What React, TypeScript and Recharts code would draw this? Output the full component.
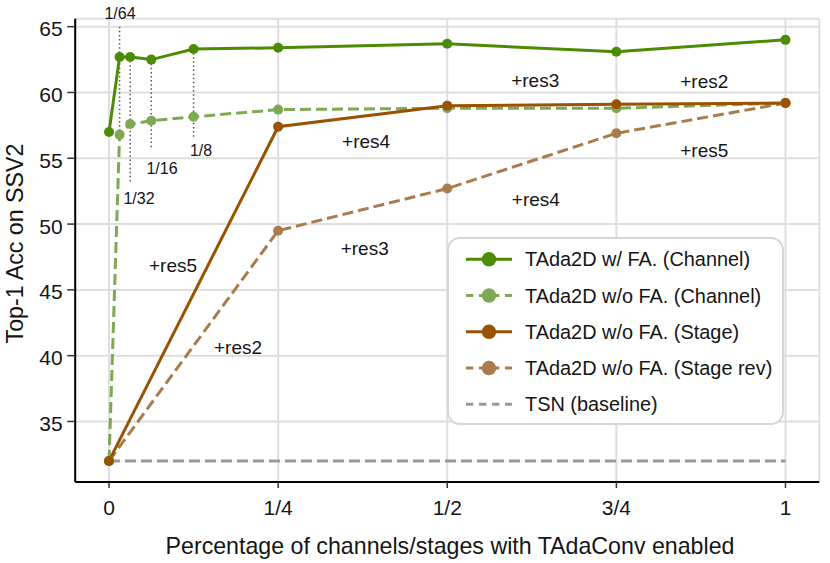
import React from 'react';
import {
  ComposedChart,
  Line,
  XAxis,
  YAxis,
  CartesianGrid,
  ReferenceDot,
  Legend,
} from 'recharts';

// ---------- data ----------
const xTicks = [0, 0.25, 0.5, 0.75, 1];
const xTickLabels = ['0', '1/4', '1/2', '3/4', '1'];
const yTicks = [35, 40, 45, 50, 55, 60, 65];

const channelX = [0, 1 / 64, 1 / 32, 1 / 16, 1 / 8, 1 / 4, 1 / 2, 3 / 4, 1];
const withFAChannel = [57.0, 62.7, 62.7, 62.5, 63.3, 63.4, 63.7, 63.1, 64.0];
const withoutFAChannel = [32.0, 56.8, 57.6, 57.85, 58.15, 58.7, 58.8, 58.8, 59.2];

const stageX = [0, 1 / 4, 1 / 2, 3 / 4, 1];
const withoutFAStage = [32.0, 57.4, 59.0, 59.1, 59.2];
const withoutFAStageRev = [32.0, 49.5, 52.7, 56.9, 59.2];

const baselineX = [0, 1];
const baselineY = [32.0, 32.0];

const guideX = [1 / 64, 1 / 32, 1 / 16, 1 / 8];
const guideTop = [65.0, 62.7, 62.5, 63.3];
const guideBottom = [56.8, 53.2, 55.7, 56.5];

const guideLabelText = ['1/64', '1/32', '1/16', '1/8'];
const guideLabelX = [0.0163, 0.0443, 0.0783, 0.136];
const guideLabelY = [66.04, 51.98, 54.26, 55.63];

const annoText = ['+res3', '+res2', '+res4', '+res5', '+res4', '+res3', '+res5', '+res2'];
const annoX = [0.63, 0.88, 0.38, 0.88, 0.631, 0.378, 0.0946, 0.1907];
const annoY = [60.95, 60.87, 56.31, 55.58, 51.91, 48.18, 46.89, 40.66];

const seriesNames = [
  'TAda2D w/ FA. (Channel)',
  'TAda2D w/o FA. (Channel)',
  'TAda2D w/o FA. (Stage)',
  'TAda2D w/o FA. (Stage rev)',
  'TSN (baseline)',
];

// ---------- styles ----------
const FONT = '"Liberation Sans", Arial, Helvetica, sans-serif';
const C_GREEN = '#4c8c04';
const C_LGREEN = '#7da855';
const C_BROWN = '#995200';
const C_TAN = '#a87c4c';
const C_GRAY = '#999999';
const TEXT = '#151515';

const legendStyles = [
  { color: C_GREEN, dashed: false, marker: true },
  { color: C_LGREEN, dashed: true, marker: true },
  { color: C_BROWN, dashed: false, marker: true },
  { color: C_TAN, dashed: true, marker: true },
  { color: C_GRAY, dashed: true, marker: false },
];

const zip = (xs: number[], ys: number[]) => xs.map((x, i) => ({ x, y: ys[i] }));

const dataGreen = zip(channelX, withFAChannel);
const dataLGreen = zip(channelX, withoutFAChannel);
const dataBrown = zip(stageX, withoutFAStage);
const dataTan = zip(stageX, withoutFAStageRev);
const dataBase = zip(baselineX, baselineY);
const guides = guideX.map((x, i) => [
  { x, y: guideTop[i] },
  { x, y: guideBottom[i] },
]);

const YTick = (props: any) => {
  const { x, y, payload } = props;
  return (
    <text x={x} y={y + 2} dy="0.355em" textAnchor="end" fontSize={21} fill={TEXT} fontFamily={FONT}>
      {payload.value}
    </text>
  );
};

const XTick = (props: any) => {
  const { x, y, payload } = props;
  const idx = xTicks.indexOf(payload.value);
  return (
    <text x={x} y={y} dy="0.71em" textAnchor="middle" fontSize={21} fill={TEXT} fontFamily={FONT}>
      {idx >= 0 ? xTickLabels[idx] : payload.value}
    </text>
  );
};

const textShape = (txt: string, size: number) => (p: any) => (
  <text
    x={p.cx}
    y={p.cy}
    dy="0.36em"
    textAnchor="middle"
    fontSize={size}
    fill={TEXT}
    fontFamily={FONT}
  >
    {txt}
  </text>
);

const LegendBox = () => {
  const rowY = (i: number) => 22.3 + 36.25 * i;
  return (
    <svg width={337} height={188} style={{ display: 'block' }}>
      <rect x={1} y={1} width={335} height={186} rx={12} ry={12} fill="#ffffff" stroke="#d6d6d6" strokeWidth={2} />
      {seriesNames.map((name, i) => {
        const s = legendStyles[i];
        const cy = rowY(i);
        return (
          <g key={name}>
            <line
              x1={19}
              x2={65}
              y1={cy}
              y2={cy}
              stroke={s.color}
              strokeWidth={3}
              strokeDasharray={s.dashed ? '7.3 5.7' : undefined}
            />
            {s.marker && <circle cx={42} cy={cy} r={7.2} fill={s.color} />}
            <text x={78} y={cy} dy="0.36em" fontSize={19.9} fill={TEXT} fontFamily={FONT}>
              {name}
            </text>
          </g>
        );
      })}
    </svg>
  );
};

export default function App() {
  return (
    <div style={{ position: 'absolute', left: 0, top: 0, width: 830, height: 563, background: '#fff', fontFamily: FONT }}>
      <ComposedChart
        width={830}
        height={563}
        margin={{ top: 18.8, right: 10.7, bottom: 1, left: 15.2 }}
        style={{ fontFamily: FONT }}
      >
        <CartesianGrid stroke="#dedede" strokeWidth={2} />
        <XAxis
          type="number"
          dataKey="x"
          domain={[-0.05, 1.05]}
          ticks={xTicks}
          interval={0}
          allowDataOverflow
          height={80}
          tickSize={6}
          tickMargin={12}
          axisLine={{ stroke: '#000', strokeWidth: 2 }}
          tickLine={{ stroke: '#333', strokeWidth: 1.5 }}
          tick={<XTick />}
          label={{
            content: () => (
              <text x={450} y={546} dy="0.36em" textAnchor="middle" fontSize={23.2} fill={TEXT} fontFamily={FONT}>
                Percentage of channels/stages with TAdaConv enabled
              </text>
            ),
          }}
        />
        <YAxis
          type="number"
          dataKey="y"
          domain={[30.4, 65.6]}
          ticks={yTicks}
          interval={0}
          allowDataOverflow
          width={60}
          tickSize={8}
          tickMargin={4.5}
          axisLine={{ stroke: '#000', strokeWidth: 2 }}
          tickLine={{ stroke: '#333', strokeWidth: 1.5 }}
          tick={<YTick />}
          label={{
            content: () => (
              <text
                transform="translate(15,243.5) rotate(-90)"
                dy="0.36em"
                textAnchor="middle"
                fontSize={23.2}
                fill={TEXT}
                fontFamily={FONT}
              >
                Top-1 Acc on SSV2
              </text>
            ),
          }}
        />

        {guides.map((g, i) => (
          <Line
            key={'guide' + i}
            data={g}
            dataKey="y"
            stroke="#555555"
            strokeWidth={1.5}
            strokeDasharray="1.5 2.6"
            dot={false}
            activeDot={false}
            legendType="none"
            isAnimationActive={false}
          />
        ))}

        <Line
          data={dataBase}
          dataKey="y"
          name={seriesNames[4]}
          stroke={C_GRAY}
          strokeWidth={3}
          strokeDasharray="11 5"
          dot={false}
          activeDot={false}
          isAnimationActive={false}
        />
        <Line
          data={dataTan}
          dataKey="y"
          name={seriesNames[3]}
          stroke={C_TAN}
          strokeWidth={3}
          strokeDasharray="11 5"
          dot={{ r: 5, fill: C_TAN, stroke: 'none' }}
          activeDot={false}
          isAnimationActive={false}
        />
        <Line
          data={dataLGreen}
          dataKey="y"
          name={seriesNames[1]}
          stroke={C_LGREEN}
          strokeWidth={3}
          strokeDasharray="11 5"
          dot={{ r: 5, fill: C_LGREEN, stroke: 'none' }}
          activeDot={false}
          isAnimationActive={false}
        />
        <Line
          data={dataBrown}
          dataKey="y"
          name={seriesNames[2]}
          stroke={C_BROWN}
          strokeWidth={3}
          dot={{ r: 5, fill: C_BROWN, stroke: 'none' }}
          activeDot={false}
          isAnimationActive={false}
        />
        <Line
          data={dataGreen}
          dataKey="y"
          name={seriesNames[0]}
          stroke={C_GREEN}
          strokeWidth={3}
          dot={{ r: 5, fill: C_GREEN, stroke: 'none' }}
          activeDot={false}
          isAnimationActive={false}
        />

        {guideLabelText.map((t, i) => (
          <ReferenceDot
            key={'gl' + i}
            x={guideLabelX[i]}
            y={guideLabelY[i]}
            r={0}
            ifOverflow="visible"
            shape={textShape(t, 16)}
          />
        ))}
        {annoText.map((t, i) => (
          <ReferenceDot
            key={'an' + i}
            x={annoX[i]}
            y={annoY[i]}
            r={0}
            ifOverflow="visible"
            shape={textShape(t, 19)}
          />
        ))}

        <Legend
          layout="horizontal"
          verticalAlign="middle"
          align="center"
          content={() => <LegendBox />}
          wrapperStyle={{ position: 'absolute', left: 447, top: 237, width: 337, height: 188, margin: 0, padding: 0 }}
        />
      </ComposedChart>
    </div>
  );
}
